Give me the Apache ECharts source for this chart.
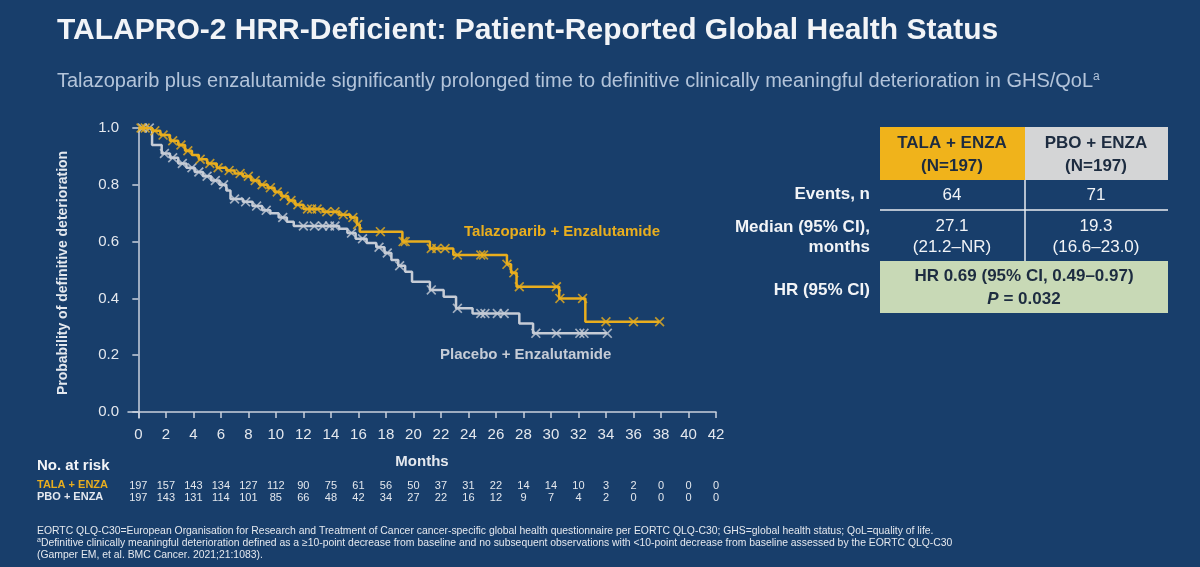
<!DOCTYPE html>
<html>
<head>
<meta charset="utf-8">
<script src="https://cdn.jsdelivr.net/npm/echarts@6/dist/echarts.min.js"></script>
<style>
  html, body { margin: 0; padding: 0; background: #183e6b; }
  #main { width: 1200px; height: 567px; }
</style>
</head>
<body>
<div id="main"></div>
<script>
// KM steps: [month, probability after the drop]
const talaSteps = [[0,1],[1.0,0.99],[1.6,0.975],[2.3,0.955],[2.9,0.94],[3.4,0.92],[3.9,0.905],[4.4,0.89],
  [5.0,0.875],[5.7,0.86],[6.4,0.85],[7.0,0.84],[7.6,0.83],[8.2,0.815],[8.8,0.80],[9.4,0.79],[9.9,0.775],
  [10.4,0.76],[10.9,0.745],[11.4,0.73],[12.0,0.715],[13.4,0.705],[14.6,0.695],[15.4,0.685],[15.9,0.66],
  [16.1,0.635],[19.2,0.60],[21.2,0.576],[22.9,0.553],[26.8,0.52],[27.1,0.49],[27.5,0.441],[30.6,0.40],
  [32.5,0.318],[37.9,0.318]];
const pboSteps = [[0,1],[1.0,0.94],[1.7,0.91],[2.3,0.895],[2.9,0.875],[3.5,0.86],[4.1,0.845],[4.7,0.83],
  [5.3,0.815],[5.9,0.80],[6.4,0.78],[6.7,0.75],[7.6,0.74],[8.3,0.725],[9.0,0.71],[9.6,0.70],[10.2,0.685],
  [10.8,0.67],[11.3,0.655],[14.6,0.645],[15.2,0.63],[15.8,0.61],[16.6,0.595],[17.3,0.58],[17.9,0.56],
  [18.4,0.535],[18.9,0.515],[19.4,0.494],[19.9,0.459],[21.2,0.43],[22.2,0.406],[23.1,0.365],[24.3,0.347],
  [27.7,0.312],[28.7,0.277],[34.1,0.277]];
// censor times (months)
const talaCensor = [0.2,0.5,1.2,1.8,2.5,3.1,3.6,4.5,5.2,5.8,6.6,7.4,8.0,8.5,9.0,9.6,10.1,10.6,11.1,11.6,
  12.3,12.6,13.0,13.7,14.3,14.9,15.6,15.95,17.6,19.25,19.4,21.3,21.7,22.3,23.2,24.9,25.1,26.8,27.3,27.7,
  30.4,30.65,32.3,34.0,36.0,37.9];
const pboCensor = [0.3,0.8,1.9,2.5,3.2,3.9,4.4,5.0,5.6,6.2,7.0,7.8,8.6,9.3,10.5,12.0,12.8,13.4,13.9,14.3,
  15.5,16.3,17.5,18.1,19.0,21.3,23.2,24.9,25.2,26.1,26.6,28.9,30.4,32.1,32.4,34.1];

const monthTicks = [0,2,4,6,8,10,12,14,16,18,20,22,24,26,28,30,32,34,36,38,40,42];
const probTicks = [0,0.2,0.4,0.6,0.8,1.0];
const talaAtRisk = [197,157,143,134,127,112,90,75,61,56,50,37,31,22,14,14,10,3,2,0,0,0];
const pboAtRisk = [197,143,131,114,101,85,66,48,42,34,27,22,16,12,9,7,4,2,0,0,0,0];

const GOLD = '#e9ae1e';
const GREY = '#c6ccd6';
const AXIS = '#c9d1dd';
const TXT = '#e4e8ee';
const WHITE = '#f2f4f7';
const DARK = '#1d2c40';
const FONT = '"Liberation Sans", Arial, sans-serif';

function survAt(steps, t) {
  let s = steps[0][1];
  for (const p of steps) { if (p[0] <= t) s = p[1]; }
  return s;
}
const cross = 'path://M0,1.2L1.2,0L5,3.8L8.8,0L10,1.2L6.2,5L10,8.8L8.8,10L5,6.2L1.2,10L0,8.8L3.8,5Z';

function riskAxis(counts, offset, color) {
  return {
    type: 'value', min: -0.75, max: 42, position: 'bottom', offset: offset,
    axisLine: {show: false}, axisTick: {show: false}, splitLine: {show: false},
    axisLabel: {
      customValues: monthTicks, margin: 0, fontSize: 11, color: color, fontFamily: FONT,
      formatter: v => String(counts[monthTicks.indexOf(v)])
    }
  };
}

function cellText(x, y, text, opts) {
  return {type: 'text', x: x, y: y, style: Object.assign({
    text: text, fill: WHITE, font: '17px ' + FONT, align: 'center', verticalAlign: 'middle', lineHeight: 21
  }, opts || {})};
}

const chart = echarts.init(document.getElementById('main'));
chart.setOption({
  backgroundColor: '#183e6b',
  animation: false,
  grid: {left: 128, right: 484, top: 128, bottom: 149},
  xAxis: [{
    type: 'value', min: -0.75, max: 42,
    name: 'Months', nameLocation: 'middle', nameGap: 36,
    nameTextStyle: {color: TXT, fontSize: 15, fontWeight: 'bold', fontFamily: FONT},
    axisLine: {lineStyle: {color: AXIS, width: 1.5}},
    axisTick: {customValues: monthTicks, length: 6, lineStyle: {color: AXIS, width: 1.5}},
    axisLabel: {customValues: monthTicks, color: TXT, fontSize: 15, margin: 9, fontFamily: FONT},
    splitLine: {show: false}
  },
    riskAxis(talaAtRisk, 62, TXT),
    riskAxis(pboAtRisk, 74, TXT)
  ],
  yAxis: {
    type: 'value', min: -0.021, max: 1,
    name: 'Probability of definitive deterioration', nameLocation: 'middle', nameGap: 58,
    nameTextStyle: {color: TXT, fontSize: 14, fontWeight: 'bold', fontFamily: FONT},
    axisLine: {show: true, lineStyle: {color: AXIS, width: 1.5}},
    axisTick: {show: true, customValues: probTicks, length: 6, lineStyle: {color: AXIS, width: 1.5}},
    axisLabel: {customValues: probTicks, color: TXT, fontSize: 15, margin: 9, fontFamily: FONT,
      formatter: v => v.toFixed(1)},
    splitLine: {show: false}
  },
  series: [
    {type: 'line', step: 'end', data: pboSteps, showSymbol: false,
      lineStyle: {color: GREY, width: 2.5}, z: 2},
    {type: 'scatter', data: pboCensor.map(t => [t, survAt(pboSteps, t)]), symbol: cross,
      symbolSize: 10, itemStyle: {color: GREY}, z: 3},
    {type: 'line', step: 'end', data: talaSteps, showSymbol: false,
      lineStyle: {color: GOLD, width: 2.5}, z: 4},
    {type: 'scatter', data: talaCensor.map(t => [t, survAt(talaSteps, t)]), symbol: cross,
      symbolSize: 10, itemStyle: {color: GOLD}, z: 5}
  ],
  graphic: [
    {type: 'text', left: 57, top: 16, style: {text: 'TALAPRO-2 HRR-Deficient: Patient-Reported Global Health Status',
      fill: WHITE, font: 'bold 30px ' + FONT}},
    {type: 'text', left: 57, top: 71, style: {text: 'Talazoparib plus enzalutamide significantly prolonged time to definitive clinically meaningful deterioration in GHS/QoL{sup|a}',
      fill: '#b3c4da', font: '20px ' + FONT, rich: {sup: {fontSize: 12, verticalAlign: 'top', fill: '#b3c4da', padding: [0, 0, 8, 0]}}}},

    {type: 'text', x: 464, y: 232, style: {text: 'Talazoparib + Enzalutamide', fill: GOLD,
      font: 'bold 15px ' + FONT, textVerticalAlign: 'middle'}},
    {type: 'text', x: 440, y: 355, style: {text: 'Placebo + Enzalutamide', fill: GREY,
      font: 'bold 15px ' + FONT, textVerticalAlign: 'middle'}},

    {type: 'text', x: 37, y: 466, style: {text: 'No. at risk', fill: WHITE,
      font: 'bold 15px ' + FONT, textVerticalAlign: 'middle'}},
    {type: 'text', x: 37, y: 485, style: {text: 'TALA + ENZA', fill: GOLD,
      font: 'bold 11px ' + FONT, textVerticalAlign: 'middle'}},
    {type: 'text', x: 37, y: 497, style: {text: 'PBO + ENZA', fill: TXT,
      font: 'bold 11px ' + FONT, textVerticalAlign: 'middle'}},

    // summary table
    {type: 'rect', shape: {x: 880, y: 127, width: 145, height: 53}, style: {fill: '#f0b31b'}},
    {type: 'rect', shape: {x: 1025, y: 127, width: 143, height: 53}, style: {fill: '#d4d5d6'}},
    {type: 'rect', shape: {x: 880, y: 261, width: 288, height: 52}, style: {fill: '#c8d9b6'}},
    {type: 'line', shape: {x1: 880, y1: 210, x2: 1168, y2: 210}, style: {stroke: '#e8ecf0', lineWidth: 1.5}},
    {type: 'line', shape: {x1: 1025, y1: 180, x2: 1025, y2: 261}, style: {stroke: '#e8ecf0', lineWidth: 1.5}},
    cellText(952, 155, 'TALA + ENZA\n(N=197)', {fill: DARK, font: 'bold 17px ' + FONT, lineHeight: 23}),
    cellText(1096, 155, 'PBO + ENZA\n(N=197)', {fill: DARK, font: 'bold 17px ' + FONT, lineHeight: 23}),
    cellText(952, 195, '64'),
    cellText(1096, 195, '71'),
    cellText(952, 237, '27.1\n(21.2\u2013NR)'),
    cellText(1096, 237, '19.3\n(16.6\u201323.0)'),
    cellText(1024, 288, 'HR 0.69 (95% CI, 0.49\u20130.97)\n{i|P} = 0.032', {fill: DARK, font: 'bold 17px ' + FONT,
      lineHeight: 23, rich: {i: {fontStyle: 'italic', fontWeight: 'bold', fontSize: 17, fill: DARK}}}),
    cellText(870, 194, 'Events, n', {font: 'bold 17px ' + FONT, align: 'right'}),
    cellText(870, 237, 'Median (95% CI),\nmonths', {font: 'bold 17px ' + FONT, align: 'right', lineHeight: 20}),
    cellText(870, 290, 'HR (95% CI)', {font: 'bold 17px ' + FONT, align: 'right'}),

    // footnotes
    {type: 'text', x: 37, y: 525, style: {text: 'EORTC QLQ-C30=European Organisation for Research and Treatment of Cancer cancer-specific global health questionnaire per EORTC QLQ-C30; GHS=global health status; QoL=quality of life.\n{s|a}Definitive clinically meaningful deterioration defined as a \u226510-point decrease from baseline and no subsequent observations with <10-point decrease from baseline assessed by the EORTC QLQ-C30\n(Gamper EM, et al. {i|BMC Cancer}. 2021;21:1083).',
      fill: TXT, font: '10.4px "Liberation Sans Narrow", "Arial Narrow", sans-serif', lineHeight: 12,
      rich: {s: {fontSize: 7, verticalAlign: 'top', fill: TXT}, i: {fontStyle: 'italic', fill: TXT}}}}
  ]
});
</script>
</body>
</html>
